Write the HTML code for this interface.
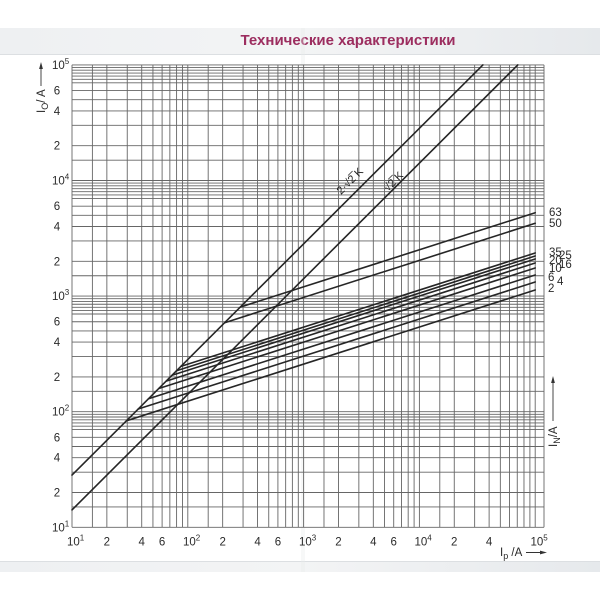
<!DOCTYPE html>
<html><head><meta charset="utf-8"><style>
html,body{margin:0;padding:0;background:#fff;}
svg{display:block;}
text{font-family:"Liberation Sans Narrow","Liberation Sans",sans-serif;fill:#2a2a2a;}
</style></head><body>
<svg width="600" height="600" viewBox="0 0 600 600" xmlns="http://www.w3.org/2000/svg">
<defs>
<linearGradient id="band" x1="0" x2="1" y1="0" y2="0">
<stop offset="0" stop-color="#eef0f2"/><stop offset="0.5" stop-color="#f3f4f5"/><stop offset="1" stop-color="#e6e9ec"/>
</linearGradient>
</defs>
<rect x="0" y="0" width="600" height="600" fill="#fff"/>
<rect x="0" y="28" width="600" height="26" fill="url(#band)"/>
<line x1="0" y1="54.5" x2="600" y2="54.5" stroke="#dcdfe2" stroke-width="1"/>
<text x="348" y="45" text-anchor="middle" style="font-family:'Liberation Sans',sans-serif;font-weight:bold;font-size:15px;fill:#9c2d5f;">Технические характеристики</text>
<rect x="0" y="562" width="600" height="10" fill="url(#band)"/>
<line x1="0" y1="561.5" x2="600" y2="561.5" stroke="#dcdfe2" stroke-width="1"/>
<rect x="301" y="28" width="4" height="544" fill="#e8eaec" opacity="0.35"/>

<g stroke="#666" stroke-width="0.9" fill="none">
<path d="M72 64.9V527.3M92.39 64.9V527.3M106.86 64.9V527.3M127.25 64.9V527.3M141.72 64.9V527.3M152.94 64.9V527.3M162.11 64.9V527.3M169.86 64.9V527.3M176.58 64.9V527.3M182.5 64.9V527.3
M187.8 64.9V527.3M208.19 64.9V527.3M222.66 64.9V527.3M243.05 64.9V527.3M257.52 64.9V527.3M268.74 64.9V527.3M277.91 64.9V527.3M285.66 64.9V527.3M292.38 64.9V527.3M298.3 64.9V527.3
M303.6 64.9V527.3M323.99 64.9V527.3M338.46 64.9V527.3M358.85 64.9V527.3M373.32 64.9V527.3M384.54 64.9V527.3M393.71 64.9V527.3M401.46 64.9V527.3M408.18 64.9V527.3M414.1 64.9V527.3
M419.4 64.9V527.3M439.79 64.9V527.3M454.26 64.9V527.3M474.65 64.9V527.3M489.12 64.9V527.3M500.34 64.9V527.3M509.51 64.9V527.3M517.26 64.9V527.3M523.98 64.9V527.3M529.9 64.9V527.3
M535.2 64.9V527.3M544 64.9V527.3"/>
<path d="M72 527.3H544M72 506.94H544M72 492.5H544M72 472.14H544M72 457.7H544M72 446.5H544M72 437.35H544M72 429.61H544M72 426.14H544M72 422.9H544M72 419.86H544M72 416.99H544M72 414.28H544
M72 411.7H544M72 391.34H544M72 376.9H544M72 356.54H544M72 342.1H544M72 330.9H544M72 321.75H544M72 314.01H544M72 310.54H544M72 307.3H544M72 304.26H544M72 301.39H544M72 298.68H544
M72 296.1H544M72 275.74H544M72 261.3H544M72 240.94H544M72 226.5H544M72 215.3H544M72 206.15H544M72 198.41H544M72 194.94H544M72 191.7H544M72 188.66H544M72 185.79H544M72 183.08H544
M72 180.5H544M72 160.14H544M72 145.7H544M72 125.34H544M72 110.9H544M72 99.7H544M72 90.55H544M72 82.81H544M72 79.34H544M72 76.1H544M72 73.06H544M72 70.19H544M72 67.48H544
M72 64.9H544"/>
</g>

<g stroke="#262626" stroke-width="1.6" fill="none" stroke-linecap="round">
<line x1="72" y1="475.1" x2="482.9" y2="64.9"/>
<line x1="72" y1="509.9" x2="517.8" y2="64.9"/>
<line x1="240.3" y1="307.1" x2="535.2" y2="212.7"/>
<line x1="224.7" y1="322.7" x2="535.2" y2="223.3"/>
<line x1="180.9" y1="366.4" x2="535.2" y2="253"/>
<line x1="176.5" y1="370.8" x2="535.2" y2="256"/>
<line x1="172.1" y1="375.2" x2="535.2" y2="259"/>
<line x1="166.2" y1="381.1" x2="535.2" y2="263"/>
<line x1="158.8" y1="388.5" x2="535.2" y2="268"/>
<line x1="148.5" y1="398.7" x2="535.2" y2="275"/>
<line x1="138.2" y1="409.0" x2="535.2" y2="282"/>
<line x1="126.4" y1="420.8" x2="535.2" y2="290"/>
</g>

<text transform="translate(341,195) rotate(-45)" font-size="11" style="fill:#222">2·√2̅ K</text>
<text transform="translate(388,192) rotate(-45)" font-size="11" style="fill:#222">√2̅ K</text>

<g font-size="11.5">
<text x="52" y="531.3">10<tspan font-size="8" dy="-5">1</tspan></text>
<text x="57" y="496.5" text-anchor="middle">2</text>
<text x="57" y="461.7" text-anchor="middle">4</text>
<text x="57" y="441.3" text-anchor="middle">6</text>
<text x="52" y="415.7">10<tspan font-size="8" dy="-5">2</tspan></text>
<text x="57" y="380.9" text-anchor="middle">2</text>
<text x="57" y="346.1" text-anchor="middle">4</text>
<text x="57" y="325.7" text-anchor="middle">6</text>
<text x="52" y="300.1">10<tspan font-size="8" dy="-5">3</tspan></text>
<text x="57" y="265.3" text-anchor="middle">2</text>
<text x="57" y="230.5" text-anchor="middle">4</text>
<text x="57" y="210.1" text-anchor="middle">6</text>
<text x="52" y="184.5">10<tspan font-size="8" dy="-5">4</tspan></text>
<text x="57" y="149.7" text-anchor="middle">2</text>
<text x="57" y="114.9" text-anchor="middle">4</text>
<text x="57" y="94.5" text-anchor="middle">6</text>
<text x="52" y="68.9">10<tspan font-size="8" dy="-5">5</tspan></text>
</g>

<g font-size="11.5">
<text x="67" y="545.5">10<tspan font-size="8" dy="-5">1</tspan></text>
<text x="106.86" y="545.5" text-anchor="middle">2</text>
<text x="141.72" y="545.5" text-anchor="middle">4</text>
<text x="162.11" y="545.5" text-anchor="middle">6</text>
<text x="183" y="545.5">10<tspan font-size="8" dy="-5">2</tspan></text>
<text x="222.66" y="545.5" text-anchor="middle">2</text>
<text x="257.52" y="545.5" text-anchor="middle">4</text>
<text x="277.91" y="545.5" text-anchor="middle">6</text>
<text x="299" y="545.5">10<tspan font-size="8" dy="-5">3</tspan></text>
<text x="338.46" y="545.5" text-anchor="middle">2</text>
<text x="373.32" y="545.5" text-anchor="middle">4</text>
<text x="393.71" y="545.5" text-anchor="middle">6</text>
<text x="414.5" y="545.5">10<tspan font-size="8" dy="-5">4</tspan></text>
<text x="454.26" y="545.5" text-anchor="middle">2</text>
<text x="489.12" y="545.5" text-anchor="middle">4</text>
<text x="530.5" y="545.5">10<tspan font-size="8" dy="-5">5</tspan></text>
</g>

<text x="500" y="556" font-size="11.5">I<tspan font-size="9" dy="3">p</tspan><tspan dy="-3"> /A</tspan></text>
<line x1="526" y1="552.5" x2="543" y2="552.5" stroke="#333" stroke-width="0.9"/>
<path d="M547 552.5L540 550.6L540 554.4Z" fill="#333"/>

<text transform="translate(45,113) rotate(-90)" font-size="11.5">I<tspan font-size="9" dy="3">O</tspan><tspan dy="-3">/ A</tspan></text>
<line x1="41" y1="86" x2="41" y2="67" stroke="#333" stroke-width="0.9"/>
<path d="M41 62L39.1 69L42.9 69Z" fill="#333"/>

<text transform="translate(557,447) rotate(-90)" font-size="11.5">I<tspan font-size="9" dy="3">N</tspan><tspan dy="-3">/A</tspan></text>
<line x1="553" y1="421" x2="553" y2="381" stroke="#333" stroke-width="0.9"/>
<path d="M553 376L551.1 383L554.9 383Z" fill="#333"/>

<g font-size="11.5">
<text x="549" y="216">63</text>
<text x="549" y="227">50</text>
<text x="549" y="256">35</text>
<text x="559" y="259">25</text>
<text x="549" y="264">20</text>
<text x="559" y="268">16</text>
<text x="549" y="272">10</text>
<text x="548" y="281">6</text>
<text x="557" y="285">4</text>
<text x="548" y="292">2</text>
</g>
</svg>
</body></html>
